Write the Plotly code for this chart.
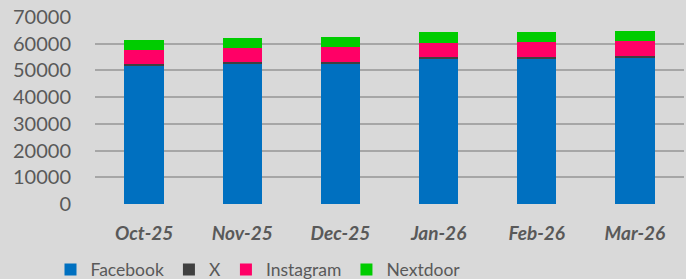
import plotly.graph_objects as go

months = ["Oct-25", "Nov-25", "Dec-25", "Jan-26", "Feb-26", "Mar-26"]
facebook = [51600, 52400, 52400, 54200, 54300, 54800]
x_vals = [850, 750, 900, 850, 900, 750]
instagram = [5250, 5250, 5350, 5400, 5450, 5350]
nextdoor = [3600, 3900, 4000, 3850, 3900, 4000]
y_ticks = [0, 10000, 20000, 30000, 40000, 50000, 60000, 70000]

series = [
    ("Facebook", facebook, "#0070C0"),
    ("X", x_vals, "#404040"),
    ("Instagram", instagram, "#FF0066"),
    ("Nextdoor", nextdoor, "#00CC00"),
]

FONT = "Lato"
TXT = "#595959"
BG = "#D9D9D9"

fig = go.Figure()
tick_text = [f"<b><i>{m}</i></b>" for m in months]
for name, vals, col in series:
    fig.add_trace(go.Bar(
        x=months, y=vals, name=name,
        marker=dict(color=col, line=dict(width=0)),
    ))

fig.update_layout(
    width=686, height=279,
    barmode="stack", bargap=0.6,
    paper_bgcolor=BG, plot_bgcolor=BG,
    margin=dict(l=95, r=2, t=17, b=75, autoexpand=False),
    font=dict(family=FONT, color=TXT, size=19),
    showlegend=True,
    legend=dict(
        orientation="h", x=(258 - 95) / 589, xanchor="center", y=-0.255, yanchor="top",
        font=dict(family=FONT, size=17.5, color=TXT),
        bgcolor="rgba(0,0,0,0)", traceorder="normal",
    ),
    xaxis=dict(
        tickmode="array", tickvals=months, ticktext=tick_text,
        showgrid=False, showline=False, zeroline=False, ticks="",
        ticklabelstandoff=16,
        tickfont=dict(family=FONT, size=19, color=TXT), automargin=False,
    ),
    yaxis=dict(
        range=[0, 70000], tickmode="array", tickvals=y_ticks,
        ticktext=[str(v) for v in y_ticks],
        showgrid=True, gridcolor="#A6A6A6", gridwidth=2,
        zeroline=True, zerolinecolor=BG, zerolinewidth=2,
        showline=False, ticks="", ticklabelstandoff=23,
        tickfont=dict(family=FONT, size=20, color=TXT), automargin=False,
    ),
)

fig.write_html(
    "out.html",
    config={"displayModeBar": False},
    post_script="document.body.style.margin='0';document.body.style.overflow='hidden';",
)
